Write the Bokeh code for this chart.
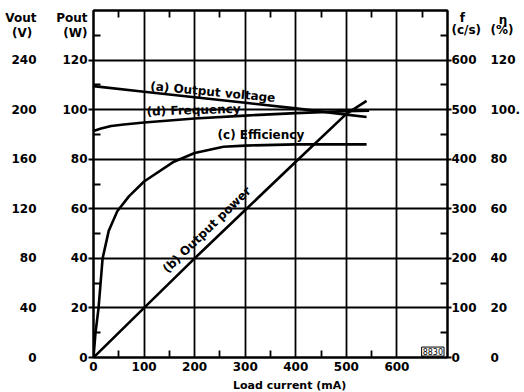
from bokeh.plotting import figure
from bokeh.models import LinearAxis, Range1d, FixedTicker, Label, Grid
from bokeh.embed import file_html
from bokeh.resources import INLINE

# ---- data ----
load_a = [0, 100, 200, 300, 400, 500, 540]
vout_a = [219, 214.5, 210, 205.5, 201, 196, 194]

load_b = [0, 100, 200, 300, 400, 500, 540]
pout_b = [0, 20, 40, 59.5, 79, 98.3, 103.5]

load_c = [0, 4, 10, 14, 18, 30, 47, 70, 100, 159, 200, 257, 300, 400, 540]
eff_c = [0, 10, 20, 30, 40, 51, 59, 65, 71, 79, 82.5, 85, 85.5, 86, 86]

load_d = [0, 15, 35, 60, 100, 200, 300, 400, 500, 545]
freq_d = [457, 462, 467, 470, 474, 482, 488, 493, 497, 498]

x_ticks = [0, 100, 200, 300, 400, 500, 600]
x_minor = [50, 150, 250, 350, 450, 550, 650]
pout_ticks = [0, 20, 40, 60, 80, 100, 120]
pout_minor = [10, 30, 50, 70, 90, 110, 130]
vout_ticks = [0, 40, 80, 120, 160, 200, 240]
f_ticks = [0, 100, 200, 300, 400, 500, 600]
f_minor = [50, 150, 250, 350, 450, 550, 650]
eta_ticks = [0, 20, 40, 60, 80, 100, 120]
eta_labels = ["0", "20", "40", "60", "80", "100.", "120"]

# column headers: (position on that column's own scale, text)
vout_head = [(274, "Vout"), (262, "(V)\u00a0")]
pout_head = [(137, "Pout"), (131, "(W)")]
f_head = [(684, "\u00a0\u00a0f"), (660, "(c/s)")]
eta_head = [(136, "\u00a0\u00a0\u03b7"), (132, "(%)")]

FONT = "DejaVu Sans"
NUM_SIZE = "12px"

p = figure(frame_width=354, frame_height=347,
           x_range=Range1d(0, 700), y_range=Range1d(0, 140),
           x_axis_type=None, y_axis_type=None,
           output_backend="svg", toolbar_location=None,
           min_border_left=93, min_border_right=77,
           min_border_top=10, min_border_bottom=35)
p.extra_y_ranges = {"f": Range1d(0, 700), "v": Range1d(0, 280)}
p.outline_line_color = "black"
p.outline_line_width = 2
p.background_fill_color = "white"
p.border_fill_color = "white"

p.add_layout(Grid(dimension=0, ticker=FixedTicker(ticks=x_ticks[1:]),
                  grid_line_color="black", grid_line_width=1.8))
p.add_layout(Grid(dimension=1, ticker=FixedTicker(ticks=pout_ticks[1:]),
                  grid_line_color="black", grid_line_width=1.8))


def tick_axis(rng, ticks, minor, out):
    """Axis that draws only the line and tick marks."""
    kw = {} if rng is None else {"y_range_name": rng}
    ax = LinearAxis(ticker=FixedTicker(ticks=ticks, minor_ticks=minor), **kw)
    ax.axis_line_width = 2
    ax.axis_line_color = "black"
    ax.major_tick_line_width = 1.8
    ax.minor_tick_line_width = 1.8
    ax.major_tick_line_color = "black"
    ax.minor_tick_line_color = "black"
    ax.minor_tick_in = 7
    ax.minor_tick_out = 0
    ax.major_tick_in = 0
    ax.major_tick_out = out
    ax.major_label_text_color = None
    ax.major_label_standoff = 0
    return ax


def label_axis(rng, ticks, labels, standoff, head=()):
    """Axis that draws only the tick labels (plus column headers)."""
    kw = {} if rng is None else {"y_range_name": rng}
    all_ticks = list(ticks) + [h[0] for h in head]
    overrides = {t: s for t, s in zip(ticks, labels)}
    overrides.update({h[0]: h[1] for h in head})
    ax = LinearAxis(ticker=FixedTicker(ticks=all_ticks, minor_ticks=[]), **kw)
    ax.major_label_overrides = overrides
    ax.axis_line_color = None
    ax.major_tick_line_color = None
    ax.minor_tick_line_color = None
    ax.major_tick_out = 0
    ax.major_tick_in = 0
    ax.major_label_standoff = standoff
    ax.major_label_text_font = FONT
    ax.major_label_text_font_style = "bold"
    ax.major_label_text_font_size = NUM_SIZE
    ax.major_label_text_color = "black"
    return ax


# left side: ticks, Pout labels, Vout labels
p.add_layout(tick_axis(None, pout_ticks, pout_minor, 5), "left")
p.add_layout(label_axis(None, pout_ticks, [str(v) for v in pout_ticks], 1, pout_head), "left")
p.add_layout(label_axis("v", vout_ticks, [str(v) for v in vout_ticks], 17, vout_head), "left")

# right side: ticks, f labels, eta labels
p.add_layout(tick_axis("f", f_ticks, f_minor, 4), "right")
p.add_layout(label_axis("f", f_ticks, [str(v) for v in f_ticks], 0, f_head), "right")
p.add_layout(label_axis(None, eta_ticks, eta_labels, 6, eta_head), "right")

# bottom axis with tick labels and title
bottom = tick_axis(None, x_ticks, x_minor, 0)
bottom.major_label_text_color = "black"
bottom.major_label_text_font = FONT
bottom.major_label_text_font_style = "bold"
bottom.major_label_text_font_size = NUM_SIZE
bottom.major_label_standoff = 4
bottom.axis_label = "\u00a0" * 10 + "Load current (mA)"
bottom.axis_label_text_font = FONT
bottom.axis_label_text_font_style = "bold"
bottom.axis_label_text_font_size = "11px"
bottom.axis_label_text_color = "black"
bottom.axis_label_standoff = 5
p.add_layout(bottom, "below")

# top edge: inward minor ticks only
p.add_layout(tick_axis(None, x_ticks, x_minor, 0), "above")

LW = 2.6
p.line(load_a, vout_a, y_range_name="v", line_color="black", line_width=LW)
p.line(load_b, pout_b, line_color="black", line_width=LW)
p.line(load_c, eff_c, line_color="black", line_width=LW)
p.line(load_d, freq_d, y_range_name="f", line_color="black", line_width=LW)


def lab(x, y, text, size="12px", bold=True, angle=0, **kw):
    p.add_layout(Label(x=x, y=y, text=text,
                       text_font=FONT, text_font_size=size,
                       text_font_style="bold" if bold else "normal",
                       text_align="center", text_baseline="middle",
                       text_color="black", angle=angle, **kw))


# curve labels
lab(236, 107.1, "(a) Output voltage", angle=-0.095)
lab(198, 99.8, "(d) Frequency", angle=0.03)
lab(331, 89.8, "(c) Efficiency")
lab(224, 51.5, "(b) Output power", angle=0.77)

# figure number box
lab(671, 2.4, "8830", size="8px", bold=False,
    border_line_color="black", border_line_width=1,
    background_fill_color="white", padding=1)

open("out.html", "w").write(file_html(p, INLINE))
